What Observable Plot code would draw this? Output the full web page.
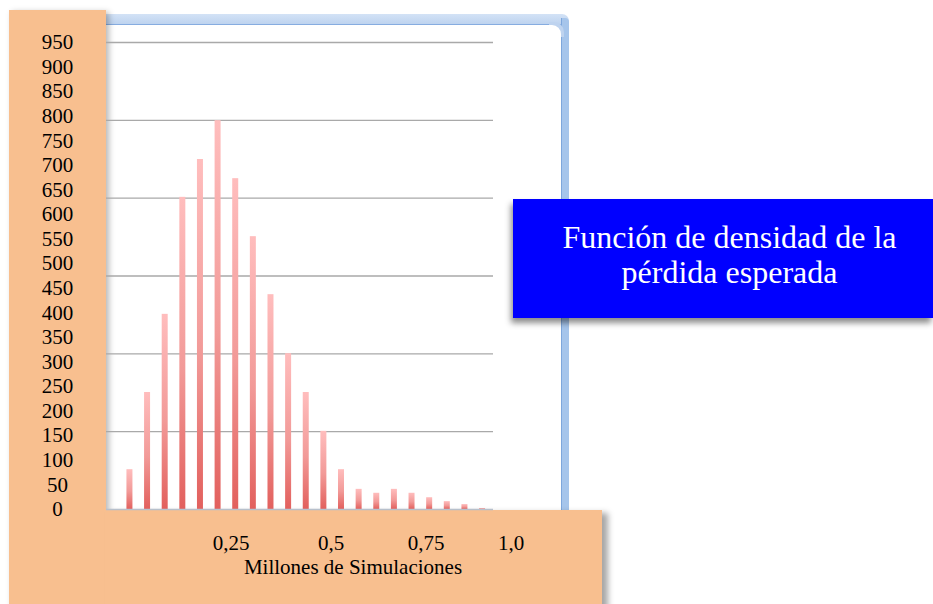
<!DOCTYPE html>
<html><head><meta charset="utf-8">
<script src="https://cdn.jsdelivr.net/npm/d3@7"></script>
<script src="https://cdn.jsdelivr.net/npm/@observablehq/plot@0.6"></script>
<style>
body{margin:0;background:#fff;}
#wrap{position:relative;width:933px;height:604px;overflow:hidden;background:#fff;font-family:"Liberation Serif","Times New Roman",serif;}
#topbar{position:absolute;left:100px;top:14px;width:469px;height:10px;background:linear-gradient(#d3e2f6,#bed3ef);border-bottom:1px solid #86ace0;border-top-right-radius:7px;}
#rightbar{position:absolute;left:561px;top:18px;width:7px;height:500px;background:#a6c5eb;border-left:1px solid #7ea7dc;border-top-right-radius:4px;}
#innercorner{position:absolute;left:548px;top:25px;width:13px;height:13px;border-top-right-radius:9px;background:#fff;box-shadow:2px -2px 0 1px #bed3ef;}
#leftpanel{position:absolute;left:9px;top:10px;width:97px;height:600px;background:#f8bf8f;box-shadow:3px 2px 6px rgba(0,0,0,0.28);}
#bottompanel{position:absolute;left:105px;top:510px;width:497px;height:100px;background:#f8bf8f;box-shadow:6px 3px 6px rgba(0,0,0,0.35);}
#chart{position:absolute;left:0;top:0;}
.xl{position:absolute;font-size:21px;line-height:21px;color:#000;white-space:nowrap;transform:translateX(-50%);}
#box{position:absolute;left:513px;top:199px;width:420px;height:119px;background:#0000ff;box-shadow:-2px 5px 6px rgba(0,0,0,0.45);color:#fff;font-size:32px;line-height:35px;text-align:center;box-sizing:border-box;padding-top:21px;padding-left:13px;}
</style></head><body>
<div id="wrap">
  <div id="topbar"></div>
  <div id="rightbar"></div>
  <div id="innercorner"></div>
  <div id="leftpanel"></div>
  <div id="bottompanel"></div>
  <div id="chart"></div>
  <div id="xlabels"></div>
  <div id="box"></div>
</div>
<script>
// Categories (histogram bins) and frequencies
const bins = [1,2,3,4,5,6,7,8,9,10,11,12,13,14,15,16,17,18,19,20,21];
const freq = [81,238,397,635,712,791,673,555,437,317,238,159,81,41,33,41,33,24,16,10,2];
// Y tick labels
const yTicks = [0,50,100,150,200,250,300,350,400,450,500,550,600,650,700,750,800,850,900,950];
// Horizontal gridlines of the underlying chart
const gridValues = [158.3,316.7,475,633.3,791.7,950];
// X tick labels and title
const xTickLabels = ["0,25","0,5","0,75","1,0"];
const xTickCenters = [231,331,426,511];
const xTitle = "Millones de Simulaciones";
const boxLines = ["Función de densidad de la","pérdida esperada"];

const data = bins.map((b,i)=>({bin:b, v:freq[i]}));

const svg = Plot.plot({
  width: 600, height: 560,
  marginLeft: 106, marginRight: 107, marginTop: 42, marginBottom: 51,
  style: "background:transparent;overflow:visible;font-family:'Liberation Serif','Times New Roman',serif;font-size:21px;color:#000;",
  x: {type: "band", domain: bins, paddingInner: 0.66, paddingOuter: 0.805, align: 0.72, round: false, axis: null},
  y: {domain: [0, 950], axis: null, label: null},
  marks: [
    Plot.ruleY(gridValues, {stroke: "#a9a9a9", strokeWidth: 1.3}),
    Plot.barY(data, {x: "bin", y: "v", fill: "url(#barGrad)", insetLeft: 0, insetRight: 0}),
    Plot.ruleY([0], {stroke: "#b7c0cc", strokeWidth: 1.5}),
    Plot.axisY(yTicks, {tickSize: 0, tickPadding: 49, textAnchor: "middle", fontSize: 21, label: null, fill: "#000"})
  ]
});

const ns = "http://www.w3.org/2000/svg";
const defs = document.createElementNS(ns, "defs");
const grad = document.createElementNS(ns, "linearGradient");
grad.setAttribute("id", "barGrad");
grad.setAttribute("x1", "0"); grad.setAttribute("y1", "0");
grad.setAttribute("x2", "0"); grad.setAttribute("y2", "1");
[["0%","#ffbdbd"],["55%","#f29a98"],["100%","#e2605d"]].forEach(([o,c])=>{
  const s = document.createElementNS(ns, "stop");
  s.setAttribute("offset", o); s.setAttribute("stop-color", c);
  grad.appendChild(s);
});
defs.appendChild(grad);
svg.insertBefore(defs, svg.firstChild);
document.getElementById("chart").appendChild(svg);

// X labels overlaid in the bottom panel
const xl = document.getElementById("xlabels");
xTickLabels.forEach((t,i)=>{
  const d = document.createElement("div");
  d.className = "xl"; d.textContent = t;
  d.style.left = xTickCenters[i] + "px"; d.style.top = "533px";
  xl.appendChild(d);
});
const tt = document.createElement("div");
tt.className = "xl"; tt.textContent = xTitle;
tt.style.left = "353px"; tt.style.top = "557px";
xl.appendChild(tt);

const box = document.getElementById("box");
boxLines.forEach((t,i)=>{
  const d = document.createElement("div");
  d.textContent = t;
  box.appendChild(d);
});
</script>
</body></html>
